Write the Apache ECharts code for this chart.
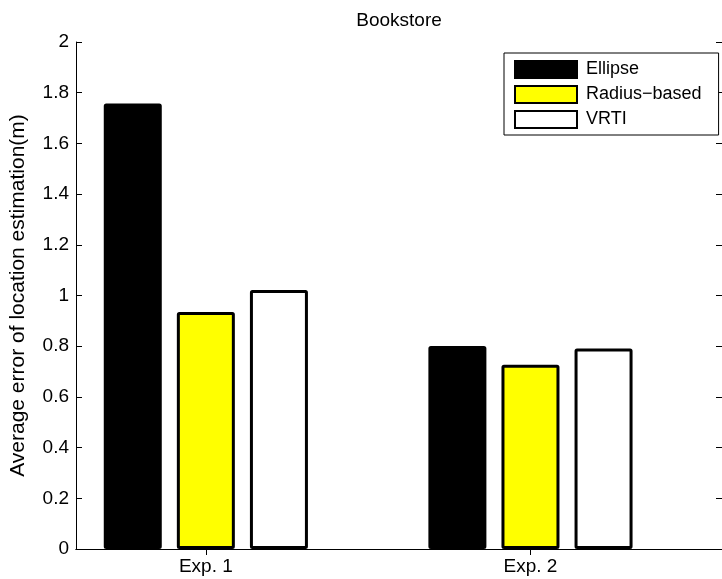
<!DOCTYPE html>
<html>
<head>
<meta charset="utf-8">
<script src="https://cdn.jsdelivr.net/npm/echarts@6/dist/echarts.min.js"></script>
<style>
  html, body { margin: 0; padding: 0; background: #fff; }
  #chart { width: 722px; height: 579px; }
</style>
</head>
<body>
<div id="chart"></div>
<script>
// Average localisation error per experiment and method
const experiments = ['Exp. 1', 'Exp. 2'];
const expPositions = [1, 2];
const methodNames = ['Ellipse', 'Radius\u2212based', 'VRTI'];
const ellipse = [1.757, 0.801];
const radiusBased = [0.935, 0.727];
const vrti = [1.022, 0.791];
const yTicks = [0, 0.2, 0.4, 0.6, 0.8, 1, 1.2, 1.4, 1.6, 1.8, 2];

const fillColors = ['#000000', '#ffff00', '#ffffff'];
const seriesValues = [ellipse, radiusBased, vrti];

const FONT = 'Liberation Sans, Arial, Helvetica, sans-serif';
const tickStyle = { show: true, inside: true, length: 6, lineStyle: { color: '#000', width: 1 } };
const lineStyle = { show: true, lineStyle: { color: '#000', width: 1 } };

const chart = echarts.init(document.getElementById('chart'), null, { renderer: 'canvas' });

const series = methodNames.map((name, i) => ({
  name: name,
  type: 'bar',
  xAxisIndex: 0,
  yAxisIndex: 0,
  barWidth: 58,
  barGap: '26%',
  data: expPositions.map((x, j) => [x, seriesValues[i][j]]),
  itemStyle: {
    color: fillColors[i],
    borderColor: '#000',
    borderWidth: 3,
    borderRadius: 1
  },
  emphasis: { disabled: true },
  animation: false
}));

chart.setOption({
  animation: false,
  backgroundColor: '#fff',
  title: {
    text: 'Bookstore',
    left: 394,
    textAlign: 'center',
    top: 6,
    textStyle: { fontFamily: FONT, fontSize: 19, fontWeight: 'normal', color: '#000' }
  },
  grid: { left: 75, right: -1, top: 42, bottom: 30, containLabel: false },
  legend: {
    data: methodNames,
    icon: 'rect',
    orient: 'vertical',
    left: 504,
    top: 53,
    itemWidth: 62,
    itemHeight: 17,
    itemGap: 6,
    padding: [7, 17, 6, 10],
    borderColor: '#000',
    borderWidth: 1,
    backgroundColor: '#fff',
    selectedMode: false,
    textStyle: { fontFamily: FONT, fontSize: 18, color: '#000', padding: [0, 0, 0, 4] }
  },
  xAxis: [
    {
      type: 'value',
      position: 'bottom',
      min: 0.6,
      max: 2.59,
      splitLine: { show: false },
      axisLine: lineStyle,
      axisTick: Object.assign({}, tickStyle, { customValues: expPositions }),
      axisLabel: {
        customValues: expPositions,
        formatter: v => experiments[expPositions.indexOf(v)] || '',
        fontFamily: FONT, fontSize: 19, color: '#000', margin: 8
      }
    },
    {
      type: 'value',
      position: 'top',
      min: 0.6,
      max: 2.59,
      splitLine: { show: false },
      axisLine: lineStyle,
      axisTick: Object.assign({}, tickStyle, { customValues: expPositions }),
      axisLabel: { show: false }
    }
  ],
  yAxis: [
    {
      type: 'value',
      position: 'left',
      min: 0,
      max: 2,
      interval: 0.2,
      name: 'Average error of location estimation(m)',
      nameLocation: 'middle',
      nameGap: 47,
      nameTextStyle: { fontFamily: FONT, fontSize: 21, color: '#000' },
      splitLine: { show: false },
      axisLine: lineStyle,
      axisTick: tickStyle,
      axisLabel: {
        fontFamily: FONT, fontSize: 19, color: '#000', margin: 7,
        formatter: v => String(yTicks.find(t => Math.abs(t - v) < 1e-9) ?? v)
      }
    },
    {
      type: 'value',
      position: 'right',
      min: 0,
      max: 2,
      interval: 0.2,
      splitLine: { show: false },
      axisLine: lineStyle,
      axisTick: tickStyle,
      axisLabel: { show: false }
    }
  ],
  series: series
});
</script>
</body>
</html>
